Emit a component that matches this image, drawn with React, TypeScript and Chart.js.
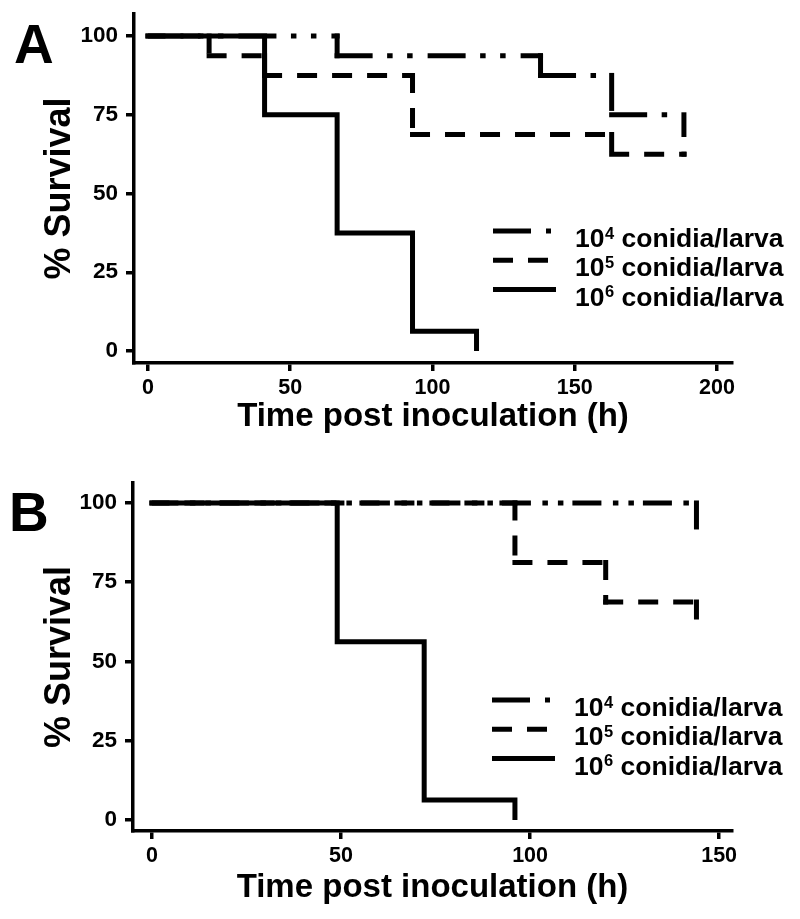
import React, { useEffect, useRef } from 'react';
import { Chart, registerables } from 'chart.js';

Chart.register(...registerables);

const FONT = '"Liberation Sans", Arial, Helvetica, sans-serif';

// ---- tick labels ----
const survivalTicks = [0, 25, 50, 75, 100];
const timeTicksA = [0, 50, 100, 150, 200];
const timeTicksB = [0, 50, 100, 150];

// ---- legend text ----
const doseExponents = ['4', '5', '6'];
const doseUnit = ' conidia/larva';
const xTitle = 'Time post inoculation (h)';
const yTitle = '% Survival';

// ---- Panel A series (time h, % survival) ----
const timeA_1e4 = [0, 66.5, 138, 163, 188.4];
const survA_1e4 = [100, 93.75, 87.5, 75, 68.75];
const timeA_1e5 = [0, 21.5, 41, 93, 163, 188.4];
const survA_1e5 = [100, 93.75, 87.5, 68.75, 62.5, 62.5];
const timeA_1e6 = [0, 41, 66.5, 93, 115.5];
const survA_1e6 = [100, 75, 37.5, 6.25, 0];

// ---- Panel B series ----
const timeB_1e4 = [0, 144];
const survB_1e4 = [100, 87.5];
const timeB_1e5 = [0, 96, 120, 144];
const survB_1e5 = [100, 81.25, 68.75, 62.5];
const timeB_1e6 = [0, 49, 72, 96];
const survB_1e6 = [100, 56.25, 6.25, 0];

// Kaplan-Meier step path: horizontal at previous value, then vertical drop
const toSteps = (t: number[], s: number[]) => {
  const pts = [{ x: t[0], y: s[0] }];
  for (let i = 1; i < t.length; i++) {
    pts.push({ x: t[i], y: s[i - 1] });
    pts.push({ x: t[i], y: s[i] });
  }
  return pts;
};

const legendDashes = [[38, 15, 5, 15, 5, 15], [20, 15], []];

const decorPlugin = {
  id: 'decor',
  afterDraw(chart: any, _args: any, opts: any) {
    const { ctx, chartArea } = chart;
    ctx.save();
    ctx.fillStyle = '#000';
    ctx.textAlign = 'left';
    ctx.textBaseline = 'alphabetic';
    ctx.font = `bold 55px ${FONT}`;
    ctx.fillText(opts.letter, opts.letterX, opts.letterY);

    chart.data.datasets.forEach((_ds: any, i: number) => {
      const ly = chartArea.top + 217 + i * 29.3;
      const by = chartArea.top + 233 + i * 29.3;
      const x0 = chartArea.left + 359;
      ctx.beginPath();
      ctx.setLineDash(legendDashes[i]);
      ctx.lineWidth = 5;
      ctx.strokeStyle = '#000';
      ctx.lineCap = 'butt';
      ctx.moveTo(x0, ly);
      ctx.lineTo(x0 + 63, ly);
      ctx.stroke();
      ctx.setLineDash([]);
      let tx = chartArea.left + 441;
      ctx.font = `bold 26.5px ${FONT}`;
      ctx.fillText('10', tx, by);
      tx += ctx.measureText('10').width + 0.5;
      ctx.font = `bold 16.5px ${FONT}`;
      ctx.fillText(doseExponents[i], tx, by - 8.5);
      tx += ctx.measureText(doseExponents[i]).width;
      ctx.font = `bold 26.5px ${FONT}`;
      ctx.fillText(doseUnit, tx, by);
    });
    ctx.restore();
  },
};

type PanelCfg = {
  letter: string;
  letterX: number;
  letterY: number;
  height: number;
  padTop: number;
  xHeight: number;
  yWidth: number;
  xMin: number;
  xMax: number;
  yMin: number;
  yMax: number;
  xTicks: number[];
  xTitlePad: number;
  dashDot: number[];
  series: { t: number[]; s: number[] }[];
};

function Panel({ cfg, top }: { cfg: PanelCfg; top: number }) {
  const ref = useRef<HTMLCanvasElement>(null);
  useEffect(() => {
    if (!ref.current) return;
    // dash lengths reduced by line width because of square caps
    const dashes = [cfg.dashDot, [15, 20], []];
    const labels = doseExponents.map((e) => `10^${e}${doseUnit}`);
    const chart = new Chart(ref.current, {
      type: 'line',
      data: {
        datasets: cfg.series.map((sr, i) => {
          const dash = dashes[i];
          const dashed = dash.length > 0;
          return {
            label: labels[i],
            data: toSteps(sr.t, sr.s),
            borderColor: '#000',
            backgroundColor: '#000',
            borderWidth: 5,
            borderDash: dash,
            borderCapStyle: dashed ? 'square' : 'butt',
            borderJoinStyle: 'miter',
            stepped: false,
            tension: 0,
            pointRadius: 0,
            fill: false,
            segment: {
              borderDash: () => dash,
              borderDashOffset: (c: any) => (dashed ? (c.p0DataIndex % 2) * 0.001 : 0),
            },
          };
        }),
      },
      options: {
        responsive: false,
        animation: false,
        events: [],
        layout: { padding: { left: 0, right: 68, top: cfg.padTop, bottom: 0 } },
        plugins: {
          legend: { display: false },
          tooltip: { enabled: false },
          decor: { letter: cfg.letter, letterX: cfg.letterX, letterY: cfg.letterY },
        } as any,
        scales: {
          x: {
            type: 'linear',
            min: cfg.xMin,
            max: cfg.xMax,
            afterBuildTicks: (s: any) => {
              s.ticks = cfg.xTicks.map((v) => ({ value: v }));
            },
            afterFit: (s: any) => {
              s.height = cfg.xHeight;
              s.paddingLeft = 0;
              s.paddingRight = 0;
            },
            ticks: {
              autoSkip: false,
              maxRotation: 0,
              padding: 4.5,
              color: '#000',
              font: { family: FONT, size: 21.5, weight: 'bold' },
            },
            grid: {
              drawOnChartArea: false,
              drawTicks: true,
              tickLength: 8,
              color: '#000',
              lineWidth: 3.5,
            },
            border: { display: true, color: '#000', width: 3.5 },
            title: {
              display: true,
              text: xTitle,
              color: '#000',
              font: { family: FONT, size: 33, weight: 'bold' },
              padding: { top: 0, bottom: cfg.xTitlePad },
            },
          },
          y: {
            type: 'linear',
            min: cfg.yMin,
            max: cfg.yMax,
            afterBuildTicks: (s: any) => {
              s.ticks = survivalTicks.map((v) => ({ value: v }));
            },
            afterFit: (s: any) => {
              s.width = cfg.yWidth;
              s.paddingTop = 0;
              s.paddingBottom = 0;
            },
            ticks: {
              padding: 8,
              color: '#000',
              font: { family: FONT, size: 22.5, weight: 'bold' },
            },
            grid: {
              drawOnChartArea: false,
              drawTicks: true,
              tickLength: 8,
              color: '#000',
              lineWidth: 3.5,
            },
            border: { display: true, color: '#000', width: 3.5 },
            title: {
              display: true,
              text: yTitle,
              color: '#000',
              font: { family: FONT, size: 36, weight: 'bold' },
              padding: { top: 38, bottom: 0 },
            },
          },
        },
      } as any,
      plugins: [decorPlugin as any],
    });
    return () => chart.destroy();
  }, [cfg]);
  return (
    <canvas
      ref={ref}
      width={800}
      height={cfg.height}
      style={{ position: 'absolute', left: 0, top, width: 800, height: cfg.height, display: 'block' }}
    />
  );
}

const panelA: PanelCfg = {
  letter: 'A',
  letterX: 14,
  letterY: 63,
  height: 460,
  padTop: 14,
  xHeight: 97,
  yWidth: 134,
  xMin: -4.9,
  xMax: 205.3,
  yMin: -3.8,
  yMax: 107,
  xTicks: timeTicksA,
  xTitlePad: 23,
  dashDot: [33, 19.5, 0.5, 19.5, 0.5, 20],
  series: [
    { t: timeA_1e4, s: survA_1e4 },
    { t: timeA_1e5, s: survA_1e5 },
    { t: timeA_1e6, s: survA_1e6 },
  ],
};

const panelB: PanelCfg = {
  letter: 'B',
  letterX: 9,
  letterY: 71,
  height: 459,
  padTop: 23,
  xHeight: 88,
  yWidth: 133,
  xMin: -5.0,
  xMax: 153.4,
  yMin: -3.5,
  yMax: 106.3,
  xTicks: timeTicksB,
  xTitlePad: 11,
  dashDot: [24, 16.5, 0.5, 15, 0.5, 14],
  series: [
    { t: timeB_1e4, s: survB_1e4 },
    { t: timeB_1e5, s: survB_1e5 },
    { t: timeB_1e6, s: survB_1e6 },
  ],
};

export default function App() {
  return (
    <div style={{ position: 'absolute', left: 0, top: 0, width: 800, height: 919, background: '#fff', overflow: 'hidden' }}>
      <Panel cfg={panelA} top={0} />
      <Panel cfg={panelB} top={460} />
    </div>
  );
}
